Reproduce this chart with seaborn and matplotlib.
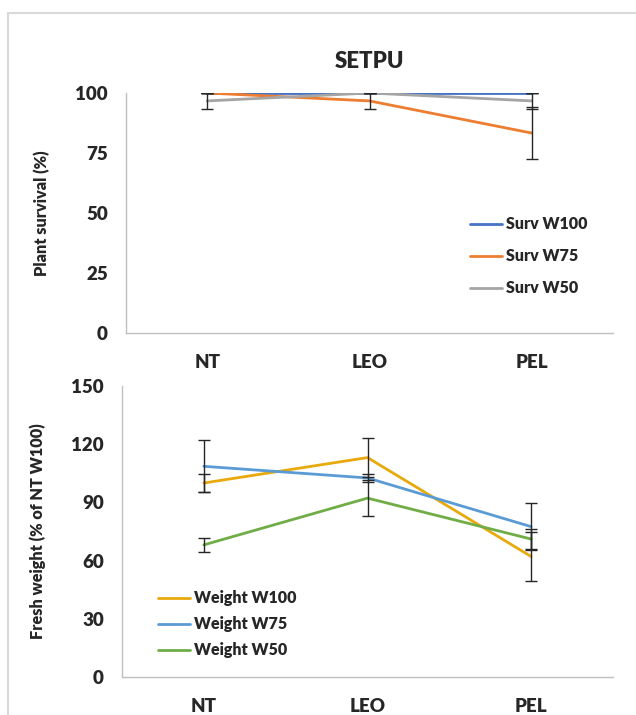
import numpy as np
import pandas as pd
import matplotlib
matplotlib.use("Agg")
import matplotlib.pyplot as plt
from matplotlib.lines import Line2D
from matplotlib.patches import Rectangle
import seaborn as sns

# Treatments on the x axis
categories = ["NT", "LEO", "PEL"]

# Plant survival (%) and standard errors
surv_labels = ["Surv W100", "Surv W75", "Surv W50"]
surv_w100 = [100, 100, 100]
surv_w75 = [100, 96.7, 83.3]
surv_w50 = [96.7, 100, 96.7]
surv_w100_err = [0, 0, 0]
surv_w75_err = [0, 3.3, 11.0]
surv_w50_err = [3.3, 0, 3.3]

# Fresh weight (% of NT W100) and standard errors
weight_labels = ["Weight W100", "Weight W75", "Weight W50"]
weight_w100 = [100, 113.1, 62.1]
weight_w75 = [108.6, 102.6, 77.5]
weight_w50 = [68.1, 92.2, 71.1]
weight_w100_err = [4.8, 10.1, 12.5]
weight_w75_err = [13.4, 2.2, 12.1]
weight_w50_err = [3.8, 9.3, 5.0]

surv_colors = ["#4472C4", "#ED7D31", "#A5A5A5"]
weight_colors = ["#E8A90C", "#5B9BD5", "#70AD47"]

W = "heavy"

sns.set_theme(style="white")
plt.rcParams["font.family"] = ["Lato", "DejaVu Sans"]
plt.rcParams["font.weight"] = W

fig = plt.figure(figsize=(6.36, 7.15), dpi=100)
fig.patch.set_facecolor("white")
fig.patches.append(Rectangle((8 / 636, -0.05), 1.2, 1 - 13 / 715 + 0.05,
                             transform=fig.transFigure, fill=False,
                             edgecolor="#D9D9D9", linewidth=1.5))

ax1 = fig.add_axes([126 / 636, 1 - 333 / 715, (613 - 126) / 636, (333 - 93) / 715])
ax2 = fig.add_axes([122 / 636, 1 - 677 / 715, (613 - 122) / 636, (677 - 386) / 715])


def long_frame(labels, series):
    rows = []
    for lab, vals in zip(labels, series):
        for c, v in zip(categories, vals):
            rows.append({"treatment": c, "series": lab, "value": v})
    return pd.DataFrame(rows)


def draw_panel(ax, labels, series, errs, colors):
    df = long_frame(labels, series)
    sns.lineplot(data=df, x="treatment", y="value", hue="series",
                 hue_order=labels, palette=colors, sort=False,
                 linewidth=2.0, ax=ax, legend=False)
    xpos = np.arange(len(categories))
    for vals, err in zip(series, errs):
        ax.errorbar(xpos, vals, yerr=err, fmt="none", ecolor="#262626",
                    elinewidth=1.0, capsize=4, capthick=1.0, zorder=5)
    ax.set_xlim(-0.5, len(categories) - 0.5)
    ax.set_xlabel("")
    for s in ["top", "right"]:
        ax.spines[s].set_visible(False)
    for s in ["left", "bottom"]:
        ax.spines[s].set_color("#BFBFBF")
        ax.spines[s].set_linewidth(1.0)
    ax.tick_params(axis="both", length=0, labelsize=13.5)
    ax.tick_params(axis="y", pad=13)
    ax.tick_params(axis="x", pad=15)
    for t in ax.get_xticklabels() + ax.get_yticklabels():
        t.set_fontweight(W)


draw_panel(ax1, surv_labels, [surv_w100, surv_w75, surv_w50],
           [surv_w100_err, surv_w75_err, surv_w50_err], surv_colors)
ax1.set_ylim(0, 100)
ax1.set_yticks([0, 25, 50, 75, 100])
ax1.set_yticklabels(["0", "25", "50", "75", "100"], fontweight=W)
ax1.set_ylabel("Plant survival (%)", fontsize=11.7, fontweight=W)
ax1.yaxis.set_label_coords(-(126 - 50) / 487, 0.5)
ax1.set_title("SETPU", fontsize=16, fontweight=W, pad=18)

draw_panel(ax2, weight_labels, [weight_w100, weight_w75, weight_w50],
           [weight_w100_err, weight_w75_err, weight_w50_err], weight_colors)
ax2.set_ylim(0, 150)
ax2.set_yticks([0, 30, 60, 90, 120, 150])
ax2.set_yticklabels(["0", "30", "60", "90", "120", "150"], fontweight=W)
ax2.set_ylabel("Fresh weight (% of NT W100)", fontsize=11.7, fontweight=W)
ax2.yaxis.set_label_coords(-(122 - 46) / 491, 0.5)

h1 = [Line2D([], [], color=c, linewidth=2.0) for c in surv_colors]
fig.legend(h1, surv_labels, loc="upper left",
           bbox_to_anchor=(456 / 636, 1 - 202 / 715), frameon=False,
           prop={"weight": W, "size": 11.5}, handlelength=2.0,
           handletextpad=0.25, labelspacing=1.0)

h2 = [Line2D([], [], color=c, linewidth=2.0) for c in weight_colors]
fig.legend(h2, weight_labels, loc="upper left",
           bbox_to_anchor=(144 / 636, 1 - 576 / 715), frameon=False,
           prop={"weight": W, "size": 11.5}, handlelength=2.0,
           handletextpad=0.25, labelspacing=0.62)

fig.savefig("out.png", dpi=100, facecolor="white")
